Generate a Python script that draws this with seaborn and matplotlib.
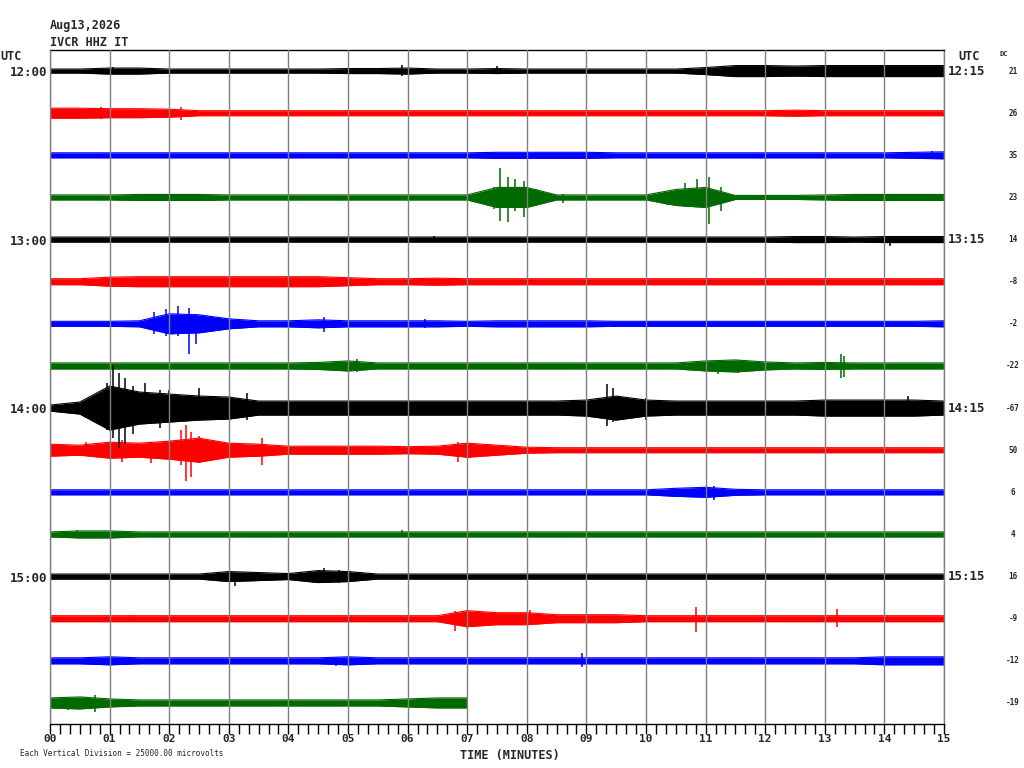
import numpy as np
import pandas as pd
import matplotlib
matplotlib.use("Agg")
import matplotlib.pyplot as plt
import matplotlib.transforms as mtransforms
import seaborn as sns

# helicorder: 16 lines of 15 minutes each, station IVCR HHZ IT
station = "IVCR HHZ IT"
date_label = "Aug13,2026"
left_labels = {0: "12:00", 4: "13:00", 8: "14:00", 12: "15:00"}
right_labels = {0: "12:15", 4: "13:15", 8: "14:15", 12: "15:15"}
dc_offsets = [21, 26, 35, 23, 14, -8, -2, -22, -67, 50, 6, 4, 16, -9, -12, -19]
trace_colors = ["#000000", "#ff0000", "#0000ff", "#006a00"]

# half-amplitude of each line, sampled every 30 s (units of 1/42 vertical division)
sample_minutes = [i * 0.5 for i in range(31)]
amplitudes = [
    [2, 2, 3, 3, 2, 2, 2, 2, 2, 2, 2.5, 2.5, 3, 2, 2, 2.5, 2, 2, 2, 2, 2, 2, 3.5, 5.5, 5.5, 5, 5.5, 5.5, 5.5, 5.5, 5.5],
    [5, 5, 4.5, 4.5, 4, 2.5, 2.5, 2.5, 2.5, 2.5, 2.5, 2.5, 2.5, 2.5, 2.5, 2.5, 2.5, 2.5, 2.5, 2.5, 2.5, 2.5, 2.5, 2.5, 2.5, 3, 2.5, 2.5, 2.5, 2.5, 2.5],
    [2.5, 2.5, 2.5, 2.5, 2.5, 2.5, 2.5, 2.5, 2.5, 2.5, 2.5, 2.5, 2.5, 2.5, 2.5, 3, 3, 3, 3, 2.5, 2.5, 2.5, 2.5, 2.5, 2.5, 2.5, 2.5, 2.5, 2.5, 3, 3.5],
    [2.5, 2.5, 2.5, 3, 3, 3, 2.5, 2.5, 2.5, 2.5, 2.5, 2.5, 2.5, 2.5, 2.5, 10, 10, 2.5, 2.5, 2.5, 2.5, 8, 10, 2, 2, 2, 2.5, 3, 3, 3, 3],
    [2.5, 2.5, 2.5, 2.5, 2.5, 2.5, 2.5, 2.5, 2.5, 2.5, 2.5, 2.5, 2.5, 2.5, 2.5, 2.5, 2.5, 2.5, 2.5, 2.5, 2.5, 2.5, 2.5, 2.5, 2.5, 3, 3, 2.5, 3, 3, 3],
    [3, 3, 4.5, 5, 5, 5, 5, 5, 5, 5, 4, 3, 3, 3.5, 3, 3, 3, 3, 3, 3, 3, 3, 3, 3, 3, 3, 3, 3, 3, 3, 3],
    [2.5, 2.5, 2.5, 3, 10, 9, 5, 3, 3, 4, 3, 3, 3, 3, 2.5, 3, 3, 3, 3, 2.5, 2.5, 2.5, 2.5, 2.5, 2.5, 2.5, 2.5, 2.5, 2.5, 2.5, 3],
    [3, 3, 3, 3, 3, 3, 3, 3, 3, 3.5, 5, 3, 3, 3, 3, 3, 3, 3, 3, 3, 3, 3, 5, 6, 4, 3, 3.5, 3, 3, 3, 3],
    [3, 6, 22, 16, 14, 12, 11, 7, 7, 7, 7, 7, 7, 7, 7, 7, 7, 7, 8, 12, 8, 7, 7, 7, 7, 7, 8, 8, 8, 8, 7],
    [6, 5, 8, 7, 9, 12, 7, 6, 4, 4, 4, 4, 3.5, 4, 7, 5, 3, 2.5, 2.5, 2.5, 2.5, 2.5, 2.5, 2.5, 2.5, 2.5, 2.5, 2.5, 2.5, 2.5, 2.5],
    [2.5, 2.5, 2.5, 2.5, 2.5, 2.5, 2.5, 2.5, 2.5, 2.5, 2.5, 2.5, 2.5, 2.5, 2.5, 2.5, 2.5, 2.5, 2.5, 2.5, 2.5, 4, 5, 3, 2.5, 2.5, 2.5, 2.5, 2.5, 2.5, 2.5],
    [2.5, 3.5, 3.5, 2.5, 2.5, 2.5, 2.5, 2.5, 2.5, 2.5, 2.5, 2.5, 2.5, 2.5, 2.5, 2.5, 2.5, 2.5, 2.5, 2.5, 2.5, 2.5, 2.5, 2.5, 2.5, 2.5, 2.5, 2.5, 2.5, 2.5, 2.5],
    [2.5, 2.5, 2.5, 2.5, 2.5, 2.5, 5, 4, 3, 6, 5, 2.5, 2.5, 2.5, 2.5, 2.5, 2.5, 2.5, 2.5, 2.5, 2.5, 2.5, 2.5, 2.5, 2.5, 2.5, 2.5, 2.5, 2.5, 2.5, 2.5],
    [3, 3, 3, 3, 3, 3, 3, 3, 3, 3, 3, 3, 3, 3, 8, 6, 6, 4, 4, 4, 3, 3, 3, 3, 3, 3, 3, 3, 3, 3, 3],
    [3, 3, 4, 3, 3, 3, 3, 3, 3, 3, 4, 3, 3, 3, 3, 3, 3, 3, 3, 3, 3, 3, 3, 3, 3, 3, 3, 3, 4, 4, 4],
    [5, 6, 4, 3, 3, 3, 3, 3, 3, 3, 3, 3, 4, 5, 5],  # recording stops at 07:00
]

# single large swings: (minute, up, down), same units
spikes = [
    [(1.05, 4, 3), (5.9, 6, 5), (7.5, 5, 2)],
    [(0.85, 6, 6), (2.2, 6, 7)],
    [(14.8, 4, 3)],
    [(7.45, 10, 12), (7.55, 29, 24), (7.68, 20, 25), (7.8, 18, 14), (7.95, 16, 20), (8.15, 8, 6),
     (8.6, 3, 6), (10.35, 4, 8), (10.65, 14, 10), (10.85, 18, 10), (11.06, 20, 27), (11.25, 10, 14)],
    [(6.45, 4, 1), (14.1, 2, 6)],
    [],
    [(1.75, 12, 10), (1.95, 15, 12), (2.15, 18, 12), (2.33, 16, 30), (2.45, 10, 20), (2.7, 8, 8),
     (4.6, 7, 8), (6.3, 5, 4)],
    [(4.9, 5, 5), (5.15, 7, 6), (11.2, 6, 8), (11.55, 6, 7), (13.27, 12, 12), (13.33, 10, 11)],
    [(0.7, 8, 8), (0.95, 25, 22), (1.05, 43, 30), (1.15, 35, 40), (1.25, 30, 36), (1.4, 22, 26),
     (1.6, 25, 15), (1.85, 18, 20), (2.0, 18, 15), (2.5, 20, 12), (3.3, 15, 12), (9.35, 24, 18),
     (9.45, 20, 14), (10.0, 10, 12), (14.4, 12, 4)],
    [(0.6, 8, 6), (1.2, 10, 12), (1.7, 8, 13), (2.2, 20, 15), (2.28, 25, 31), (2.36, 18, 27),
     (2.5, 14, 12), (3.55, 12, 15), (6.85, 8, 12), (7.05, 6, 8)],
    [(11.14, 6, 8)],
    [(0.45, 4, 4), (5.9, 4, 1)],
    [(3.1, 4, 9), (4.6, 9, 6), (4.85, 7, 6)],
    [(1.4, 4, 3), (6.8, 8, 12), (7.0, 9, 9), (8.05, 9, 6), (10.84, 12, 13), (13.2, 10, 8)],
    [(4.8, 4, 5), (8.93, 8, 6)],
    [(0.3, 5, 7), (0.75, 8, 9)],
]

GAIN = 1 / 42.1  # one amplitude unit in line spacings

rows = []
for i, amp in enumerate(amplitudes):
    for t, a in zip(sample_minutes, amp):
        rows.append({"trace": i, "minute": t, "upper": i - a * GAIN, "lower": i + a * GAIN})
df = pd.DataFrame(rows)
palette = [trace_colors[i % 4] for i in range(len(amplitudes))]

sns.set_theme(style="white")
plt.rcParams["font.family"] = ["DejaVu Sans Mono"]
plt.rcParams["font.weight"] = "bold"

fig = plt.figure(figsize=(10.24, 7.68), dpi=100)
ax = fig.add_axes([50 / 1024, 1 - 724 / 768, 894 / 1024, 674 / 768])

for i, sub in df.groupby("trace"):
    ax.fill_between(sub["minute"], sub["upper"], sub["lower"], color=palette[i], lw=0, zorder=2)
sns.lineplot(data=df, x="minute", y="upper", hue="trace", palette=palette, legend=False,
             estimator=None, lw=0.8, ax=ax, zorder=2)
sns.lineplot(data=df, x="minute", y="lower", hue="trace", palette=palette, legend=False,
             estimator=None, lw=0.8, ax=ax, zorder=2)

for i, sp in enumerate(spikes):
    if not sp:
        continue
    t = [s[0] for s in sp]
    ax.vlines(t, [i - s[1] * GAIN for s in sp], [i + s[2] * GAIN for s in sp],
              color=palette[i], lw=1.1, zorder=2)

ax.set_xlim(0, 15)
ax.set_ylim(15.5, -0.5)
ax.set_xticks(range(16), [f"{m:02d}" for m in range(16)])
ax.set_xticks(np.arange(0, 15.01, 1 / 6), minor=True)
ax.tick_params(axis="x", which="both", direction="out", length=7, width=1, color="black",
               pad=0, labelsize=8, bottom=True)
ax.set_yticks(list(left_labels.keys()), list(left_labels.values()))
ax.tick_params(axis="y", length=0, pad=2, labelsize=9)
ax.grid(axis="x", color="#808080", lw=1, zorder=3)
ax.grid(axis="y", visible=False)
ax.set_axisbelow(False)
for side in ["left", "right"]:
    ax.spines[side].set_color("#808080")
    ax.spines[side].set_linewidth(1)
for side in ["top", "bottom"]:
    ax.spines[side].set_color("black")
    ax.spines[side].set_linewidth(1)
ax.set_xlabel("")
ax.set_ylabel("")

ax_right = mtransforms.blended_transform_factory(ax.transAxes, ax.transData)
for i, lab in right_labels.items():
    ax.annotate(lab, (1.0, i), xycoords=ax_right, xytext=(3, 0), textcoords="offset points",
                ha="left", va="center", fontsize=9)

fig_dc = mtransforms.blended_transform_factory(fig.transFigure, ax.transData)
for i, dc in enumerate(dc_offsets):
    ax.text(1013 / 1024, i, str(dc), transform=fig_dc, ha="center", va="center",
            fontsize=5.5, clip_on=False)

fig.text(0, 1 - 56 / 768, "UTC", ha="left", va="center", fontsize=8.5)
fig.text(969 / 1024, 1 - 56 / 768, "UTC", ha="center", va="center", fontsize=8.5)
fig.text(1004 / 1024, 1 - 54 / 768, "DC", ha="center", va="center", fontsize=5)
fig.text(50 / 1024, 1 - 26 / 768, date_label, ha="left", va="center", fontsize=8.5)
fig.text(50 / 1024, 1 - 42 / 768, station, ha="left", va="center", fontsize=8.5)
fig.text(460 / 1024, 1 - 762 / 768, "TIME (MINUTES)", ha="left", va="bottom", fontsize=8.5)
fig.text(20 / 1024, 1 - 754 / 768, "Each Vertical Division = 25000.00 microvolts",
         ha="left", va="center", fontsize=5.5, fontweight="normal")

fig.savefig("out.png", dpi=100)
